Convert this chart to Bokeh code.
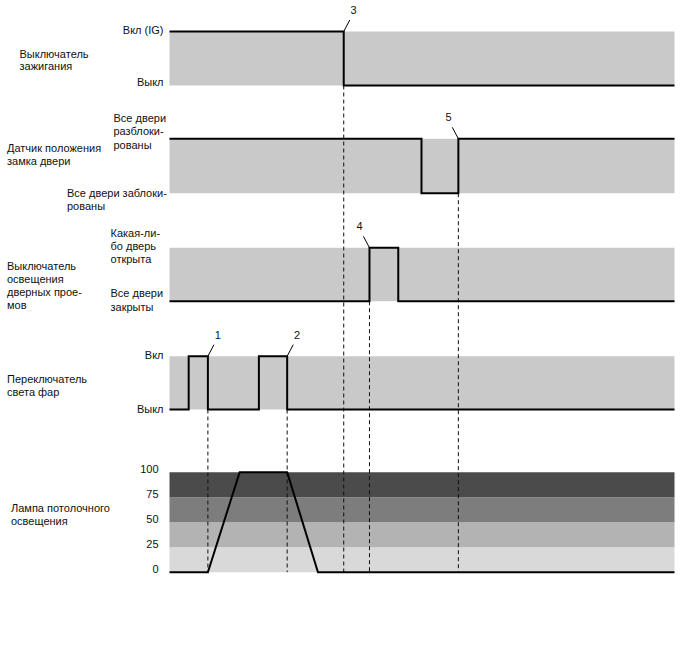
from bokeh.plotting import figure
from bokeh.models import Range1d
from bokeh.core.properties import value
from bokeh.embed import file_html
from bokeh.resources import INLINE

# ---------------- data (time in arbitrary units 0..100) ----------------
ignition_times = [0, 34.5, 100]
ignition_levels = [1, 0]
lock_times = [0, 49.9, 57.2, 100]
lock_levels = [1, 0, 1]
courtesy_times = [0, 39.6, 45.3, 100]
courtesy_levels = [0, 1, 0]
headlight_times = [0, 3.8, 7.6, 17.7, 23.3, 100]
headlight_levels = [0, 1, 0, 1, 0]
lamp_times = [0, 7.6, 13.9, 23.3, 29.4, 100]
lamp_percent = [0, 0, 100, 100, 0, 0]
lamp_ticks = [0, 25, 50, 75, 100]
lamp_tick_labels = ["0", "25", "50", "75", "100"]

event_labels = ["1", "2", "3", "4", "5"]
event_times = [7.6, 23.3, 34.5, 39.6, 57.2]
event_rows = ["headlight", "headlight", "ignition", "courtesy", "lock"]
event_lean = [1, 1, 1, -1, -1]

# ---------------- layout (page pixels) ----------------
ROWS = {
    "ignition": (31.0, 85.0),
    "lock": (138.3, 192.7),
    "courtesy": (247.3, 300.7),
    "headlight": (355.7, 409.0),
    "lamp": (471.7, 571.7),
}
BAND = "#c9c9c9"
LAMP_COLORS = ["#d9d9d9", "#b3b3b3", "#7d7d7d", "#4b4b4b"]
FONT = value("Liberation Sans")
FS = "11px"
TXT = "#111111"

W, H = 680, 650
p = figure(width=W, height=H, output_backend="svg", toolbar_location=None,
           x_range=Range1d(0, W), y_range=Range1d(H, 0),
           min_border=0, outline_line_color=None, background_fill_color="white",
           border_fill_color="white")
p.extra_x_ranges = {"t": Range1d(-169 / 5.05, (W - 169) / 5.05)}
p.xaxis.visible = False
p.yaxis.visible = False
p.grid.visible = False


def row_y(row, level, top_level=1.0):
    top, bot = ROWS[row]
    return bot - (bot - top) * level / top_level


def step_path(times, levels):
    xs, ys = [], []
    for i, lv in enumerate(levels):
        xs += [times[i], times[i + 1]]
        ys += [lv, lv]
    return xs, ys


T0, T1 = ignition_times[0], ignition_times[-1]

# grey bands for binary signals
for row in ["ignition", "lock", "courtesy", "headlight"]:
    top, bot = ROWS[row]
    p.quad(left=[T0], right=[T1], top=[top], bottom=[bot], fill_color=BAND,
           line_color=None, x_range_name="t")

# lamp bands
for i in range(len(lamp_ticks) - 1):
    p.quad(left=[T0], right=[T1],
           top=[row_y("lamp", lamp_ticks[i + 1], 100)],
           bottom=[row_y("lamp", lamp_ticks[i], 100)],
           fill_color=LAMP_COLORS[i], line_color=None, x_range_name="t")

# dashed event lines
for t, row in zip(event_times, event_rows):
    p.segment(x0=[t], y0=[ROWS[row][1]], x1=[t], y1=[ROWS["lamp"][1]],
              line_color="#111111", line_width=1, line_dash="4 3", x_range_name="t")

# signals
for row, times, levels in [("ignition", ignition_times, ignition_levels),
                           ("lock", lock_times, lock_levels),
                           ("courtesy", courtesy_times, courtesy_levels),
                           ("headlight", headlight_times, headlight_levels)]:
    xs, ys = step_path(times, levels)
    p.line(xs, [row_y(row, v) for v in ys], line_color="black", line_width=2,
           line_join="miter", x_range_name="t")

p.line(lamp_times, [row_y("lamp", v, 100) for v in lamp_percent], line_color="black",
       line_width=2, line_join="miter", x_range_name="t")

# event leaders and numbers
DX_LEAD, DY_LEAD = 1.2, 11.5
DX_NUM, DY_NUM = 1.95, 21.5
for lab, t, row, d in zip(event_labels, event_times, event_rows, event_lean):
    top = ROWS[row][0]
    p.segment(x0=[t], y0=[top], x1=[t + d * DX_LEAD], y1=[top - DY_LEAD],
              line_color="black", line_width=1, x_range_name="t")
    p.text(x=[t + d * DX_NUM], y=[top - DY_NUM], text=[lab], text_font=FONT,
           text_font_size=FS, text_color=TXT, text_align="center",
           text_baseline="middle", x_range_name="t")

# text labels (x, y in page pixels)
left_texts = [
    ("Выключатель", 19, 53), ("зажигания", 19, 65.5),
    ("Датчик положения", 6.5, 147), ("замка двери", 6.5, 160.5),
    ("Выключатель", 6.5, 265), ("освещения", 6.5, 278), ("дверных прое-", 6.5, 291.5), ("мов", 6.5, 304.5),
    ("Переключатель", 6.5, 378.5), ("света фар", 6.5, 391.5),
    ("Лампа потолочного", 10.5, 507), ("освещения", 10.5, 520.5),
    ("Все двери", 113, 117.3), ("разблоки-", 113, 130.7), ("рованы", 113, 144),
    ("Все двери заблоки-", 66.5, 192.3), ("рованы", 66.5, 205),
    ("Какая-ли-", 110, 232.7), ("бо дверь", 110, 245.3), ("открыта", 110, 258),
    ("Все двери", 110, 292.7), ("закрыты", 110, 306),
]
right_texts = [
    ("Вкл (IG)", 163, 29.3), ("Выкл", 163, 81.5),
    ("Вкл", 163, 354.5), ("Выкл", 163, 408),
]
p.text(x=[t[1] for t in left_texts], y=[t[2] for t in left_texts],
       text=[t[0] for t in left_texts], text_font=FONT, text_font_size=FS,
       text_color=TXT, text_align="left", text_baseline="middle")
p.text(x=[t[1] for t in right_texts], y=[t[2] for t in right_texts],
       text=[t[0] for t in right_texts], text_font=FONT, text_font_size=FS,
       text_color=TXT, text_align="right", text_baseline="middle")

# lamp tick labels
p.text(x=[158] * len(lamp_ticks), y=[row_y("lamp", v, 100) - 3 for v in lamp_ticks],
       text=lamp_tick_labels, text_font=FONT, text_font_size=FS, text_color=TXT,
       text_align="right", text_baseline="middle")

open("out.html", "w").write(file_html(p, INLINE))
